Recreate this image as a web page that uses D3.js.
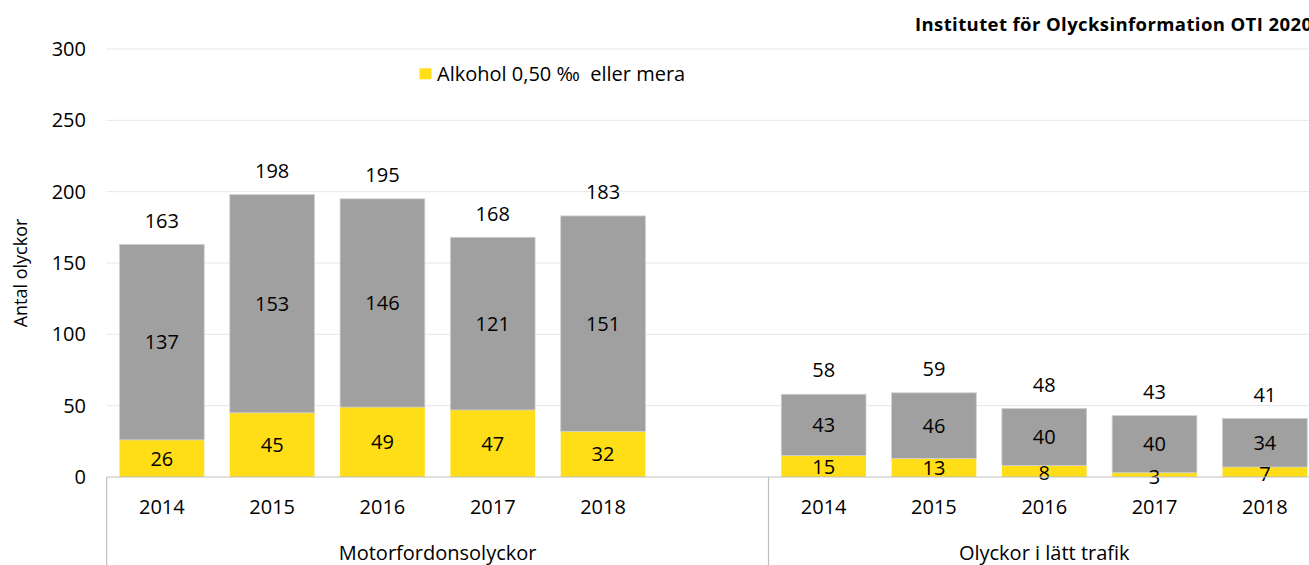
<!DOCTYPE html>
<html>
<head>
<meta charset="utf-8">
<script src="https://cdn.jsdelivr.net/npm/d3@7"></script>
<style>
  html, body { margin: 0; padding: 0; background: #fff; }
  svg { display: block; }
  text { font-family: "Open Sans", "Noto Sans", sans-serif; fill: #000; }
</style>
</head>
<body>
<svg id="chart" width="1309" height="565"></svg>
<script>
const years = ["2014", "2015", "2016", "2017", "2018"];
const groups = ["Motorfordonsolyckor", "Olyckor i lätt trafik"];
const alcoholMotor = [26, 45, 49, 47, 32];
const otherMotor = [137, 153, 146, 121, 151];
const alcoholLatt = [15, 13, 8, 3, 7];
const otherLatt = [43, 46, 40, 40, 34];
const yTicks = [0, 50, 100, 150, 200, 250, 300];
const legendLabel = "Alkohol 0,50 ‰  eller mera";
const yTitle = "Antal olyckor";
const sourceTitle = "Institutet för Olycksinformation OTI 2020";

const YELLOW = "#FFDD17";
const GRAY = "#A0A0A0";

const svg = d3.select("#chart");

// Build slot table: group 1 has 5 years + an empty slot, group 2 has 5 years
const rows = [];
years.forEach((yr, i) => rows.push({ key: "m" + yr, year: yr, group: 0, alc: alcoholMotor[i], other: otherMotor[i] }));
const gapKey = "m-gap";
years.forEach((yr, i) => rows.push({ key: "l" + yr, year: yr, group: 1, alc: alcoholLatt[i], other: otherLatt[i] }));
const domain = rows.slice(0, 5).map(d => d.key).concat([gapKey], rows.slice(5).map(d => d.key));

const left = 106.7, right = 1320;
const x = d3.scaleBand().domain(domain).range([left, right]).paddingInner(0.232).paddingOuter(0.116);
const y = d3.scaleLinear().domain([0, 300]).range([477, 49]);

// gridlines
svg.append("g").selectAll("line").data(yTicks.filter(t => t > 0)).join("line")
  .attr("x1", left).attr("x2", 1309)
  .attr("y1", d => y(d)).attr("y2", d => y(d))
  .attr("stroke", "#e6e6e6").attr("stroke-width", 1);

// y axis labels
const yAxis = d3.axisLeft(y).tickValues(yTicks).tickSize(0).tickPadding(0);
const ya = svg.append("g").attr("transform", "translate(86,0)").call(yAxis);
ya.select(".domain").remove();
ya.selectAll("text").attr("font-size", 20).attr("font-family", "Open Sans, Noto Sans, sans-serif").attr("fill", "#000");

// bars
const bars = svg.append("g");
bars.selectAll("rect.alc").data(rows).join("rect").attr("class", "alc")
  .attr("x", d => x(d.key)).attr("width", x.bandwidth())
  .attr("y", d => y(d.alc)).attr("height", d => y(0) - y(d.alc))
  .attr("fill", YELLOW);
bars.selectAll("rect.oth").data(rows).join("rect").attr("class", "oth")
  .attr("x", d => x(d.key)).attr("width", x.bandwidth())
  .attr("y", d => y(d.alc + d.other)).attr("height", d => y(d.alc) - y(d.alc + d.other))
  .attr("fill", GRAY).attr("stroke", "#cfcfcf").attr("stroke-width", 0.8);

// labels
const lab = svg.append("g").attr("font-size", 20).attr("text-anchor", "middle");
lab.selectAll("text.tot").data(rows).join("text").attr("class", "tot")
  .attr("x", d => x(d.key) + x.bandwidth() / 2)
  .attr("y", d => y(d.alc + d.other) - 24).attr("dy", "0.36em")
  .text(d => d.alc + d.other);
lab.selectAll("text.oth").data(rows).join("text").attr("class", "oth")
  .attr("x", d => x(d.key) + x.bandwidth() / 2)
  .attr("y", d => (y(d.alc) + y(d.alc + d.other)) / 2).attr("dy", "0.36em")
  .text(d => d.other);
lab.selectAll("text.alc").data(rows).join("text").attr("class", "alc")
  .attr("x", d => x(d.key) + x.bandwidth() / 2)
  .attr("y", d => (y(0) + y(d.alc)) / 2 + (d.alc < 10 ? 2 : 0)).attr("dy", "0.36em")
  .text(d => d.alc);

// x axis line & group separators
const axisG = svg.append("g");
axisG.append("line").attr("x1", left).attr("x2", 1309).attr("y1", y(0)).attr("y2", y(0))
  .attr("stroke", "#bfbfbf").attr("stroke-width", 1.2);
const sepX = [left, x(gapKey) + x.step() - x.step() * x.paddingInner() / 2];
axisG.selectAll("line.sep").data(sepX).join("line").attr("class", "sep")
  .attr("x1", d => d).attr("x2", d => d).attr("y1", y(0)).attr("y2", 565)
  .attr("stroke", "#bfbfbf").attr("stroke-width", 1.2);

// category labels
axisG.selectAll("text.yr").data(rows).join("text").attr("class", "yr")
  .attr("x", d => x(d.key) + x.bandwidth() / 2).attr("y", 507).attr("dy", "0.36em")
  .attr("text-anchor", "middle").attr("font-size", 20).text(d => d.year);

// group labels
const groupCenters = [
  (sepX[0] + sepX[1]) / 2,
  (sepX[1] + right) / 2
];
axisG.selectAll("text.grp").data(groups).join("text").attr("class", "grp")
  .attr("x", (d, i) => groupCenters[i]).attr("y", 553).attr("dy", "0.36em")
  .attr("text-anchor", "middle").attr("font-size", 20).text(d => d);

// y title
svg.append("text").attr("transform", "translate(21,273) rotate(-90)")
  .attr("text-anchor", "middle").attr("dy", "0.36em").attr("font-size", 18).text(yTitle);

// legend
svg.append("rect").attr("x", 419.5).attr("y", 68.3).attr("width", 12).attr("height", 11).attr("fill", YELLOW);
svg.append("text").attr("x", 437).attr("y", 74).attr("dy", "0.36em").attr("font-size", 20)
  .style("white-space", "pre").attr("xml:space", "preserve").text(legendLabel);

// source title
svg.append("text").attr("x", 915).attr("y", 31).attr("font-size", 18.5).attr("font-weight", "bold")
  .attr("letter-spacing", 0.4).text(sourceTitle);
</script>
</body>
</html>
